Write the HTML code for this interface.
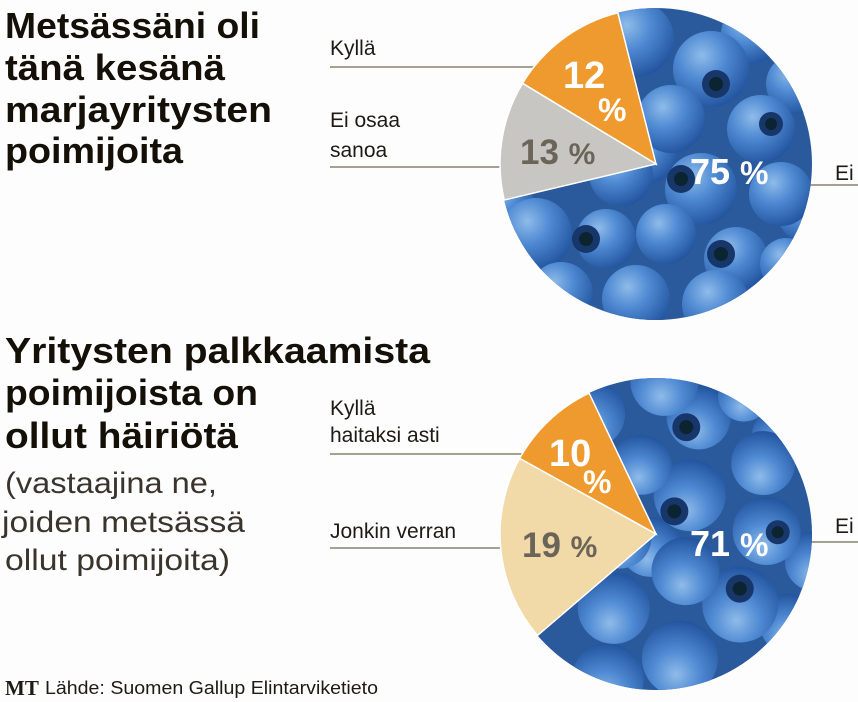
<!DOCTYPE html>
<html><head><meta charset="utf-8"><style>
html,body{margin:0;padding:0;background:#fdfdfd;overflow:hidden;width:858px;height:702px}
svg{display:block}
</style></head><body>
<svg width="858" height="702" viewBox="0 0 858 702" xmlns="http://www.w3.org/2000/svg">
<defs>
<radialGradient id="b" cx="0.38" cy="0.32" r="0.7">
<stop offset="0" stop-color="#8fbbe9"/><stop offset="0.45" stop-color="#4f8ad3"/><stop offset="1" stop-color="#2456a0"/>
</radialGradient>
<g id="berries">
<circle r="160" fill="#2a5a9c"/>
<circle cx="-140" cy="-10" r="30" fill="url(#b)"/>
<circle cx="140" cy="-80" r="30" fill="url(#b)"/>
<circle cx="150" cy="50" r="28" fill="url(#b)"/>
<circle cx="-150" cy="40" r="28" fill="url(#b)"/>
<circle cx="-10" cy="-10" r="30" fill="url(#b)"/>
<circle cx="95" cy="-130" r="30" fill="url(#b)"/>
<circle cx="-95" cy="-120" r="36" fill="url(#b)"/>
<circle cx="-20" cy="-125" r="38" fill="url(#b)"/>
<circle cx="55" cy="-95" r="38" fill="url(#b)"/>
<circle cx="-65" cy="-55" r="36" fill="url(#b)"/>
<circle cx="15" cy="-45" r="34" fill="url(#b)"/>
<circle cx="105" cy="-35" r="34" fill="url(#b)"/>
<circle cx="-35" cy="10" r="32" fill="url(#b)"/>
<circle cx="45" cy="25" r="36" fill="url(#b)"/>
<circle cx="125" cy="30" r="32" fill="url(#b)"/>
<circle cx="-120" cy="70" r="36" fill="url(#b)"/>
<circle cx="-50" cy="75" r="30" fill="url(#b)"/>
<circle cx="10" cy="70" r="30" fill="url(#b)"/>
<circle cx="80" cy="95" r="32" fill="url(#b)"/>
<circle cx="-95" cy="130" r="32" fill="url(#b)"/>
<circle cx="-20" cy="135" r="34" fill="url(#b)"/>
<circle cx="60" cy="140" r="34" fill="url(#b)"/>
<circle cx="130" cy="100" r="26" fill="url(#b)"/>
<circle cx="60" cy="-80" r="14" fill="#17366a"/><circle cx="60" cy="-80" r="7" fill="#0c2430"/>
<circle cx="-60" cy="-2" r="14" fill="#17366a"/><circle cx="-60" cy="-2" r="7" fill="#0c2430"/>
<circle cx="25" cy="15" r="14" fill="#17366a"/><circle cx="25" cy="15" r="7" fill="#0c2430"/>
<circle cx="-70" cy="75" r="14" fill="#17366a"/><circle cx="-70" cy="75" r="7" fill="#0c2430"/>
<circle cx="65" cy="90" r="14" fill="#17366a"/><circle cx="65" cy="90" r="7" fill="#0c2430"/>
<circle cx="115" cy="-40" r="12" fill="#17366a"/><circle cx="115" cy="-40" r="6" fill="#0c2430"/>
</g>
<clipPath id="c"><circle r="156"/></clipPath>
</defs>

<g font-family="Liberation Sans, sans-serif">
<g font-weight="bold" font-size="36" fill="#141008">
<text x="5" y="38" textLength="255" lengthAdjust="spacingAndGlyphs">Metsässäni oli</text>
<text x="5" y="80" textLength="220" lengthAdjust="spacingAndGlyphs">tänä kesänä</text>
<text x="5" y="122" textLength="267" lengthAdjust="spacingAndGlyphs">marjayritysten</text>
<text x="5" y="163" textLength="178" lengthAdjust="spacingAndGlyphs">poimijoita</text>
<text x="5" y="363" textLength="425" lengthAdjust="spacingAndGlyphs">Yritysten palkkaamista</text>
<text x="5" y="405" textLength="253" lengthAdjust="spacingAndGlyphs">poimijoista on</text>
<text x="5" y="448" textLength="233" lengthAdjust="spacingAndGlyphs">ollut häiriötä</text>
</g>
<g font-size="30" fill="#3a342c">
<text x="5" y="493" textLength="212" lengthAdjust="spacingAndGlyphs">(vastaajina ne,</text>
<text x="2" y="532" textLength="243" lengthAdjust="spacingAndGlyphs">joiden metsässä</text>
<text x="5" y="570" textLength="225" lengthAdjust="spacingAndGlyphs">ollut poimijoita)</text>
</g>
<g font-size="21" fill="#1e1a14">
<text x="330" y="55">Kyllä</text>
<text x="330" y="127">Ei osaa</text>
<text x="330" y="157">sanoa</text>
<text x="835" y="180">Ei</text>
<text x="330" y="415">Kyllä</text>
<text x="330" y="442">haitaksi asti</text>
<text x="330" y="538">Jonkin verran</text>
<text x="835" y="533">Ei</text>
</g>
<g stroke="#8a8270" stroke-width="1.5">
<line x1="330" y1="67" x2="545" y2="67"/>
<line x1="330" y1="167" x2="505" y2="167"/>
<line x1="800" y1="185" x2="858" y2="185"/>
<line x1="330" y1="454" x2="535" y2="454"/>
<line x1="330" y1="548" x2="510" y2="548"/>
<line x1="800" y1="542" x2="858" y2="542"/>
</g>

<g transform="translate(656,164)">
<g clip-path="url(#c)"><use href="#berries"/></g>
<path d="M0,0 L-38.2,-151.2 A156,156 0 0 0 -133.5,-80.7 Z" fill="#ef9a2e" stroke="#fff" stroke-width="1.5"/>
<path d="M0,0 L-133.5,-80.7 A156,156 0 0 0 -151.8,36 Z" fill="#c8c6c2" stroke="#fff" stroke-width="1.5"/>
</g>
<g transform="translate(656,534)">
<g clip-path="url(#c)"><use href="#berries" transform="scale(1,-1) rotate(20)"/></g>
<path d="M0,0 L-66.9,-140.9 A156,156 0 0 0 -136.4,-75.6 Z" fill="#ef9a2e" stroke="#fff" stroke-width="1.5"/>
<path d="M0,0 L-136.4,-75.6 A156,156 0 0 0 -118.5,101.5 Z" fill="#f1d9a8" stroke="#fff" stroke-width="1.5"/>
</g>

<g font-weight="bold" fill="#fff">
<text x="563" y="88" font-size="38">12</text>
<text x="598" y="121" font-size="32">%</text>
<text x="690" y="184" font-size="36">75 <tspan font-size="32">%</tspan></text>
<text x="549" y="466" font-size="38">10</text>
<text x="583" y="493" font-size="32">%</text>
<text x="690" y="556" font-size="36">71 <tspan font-size="32">%</tspan></text>
</g>
<g font-weight="bold" fill="#6b6458">
<text x="520" y="164" font-size="35">13 <tspan font-size="30">%</tspan></text>
<text x="522" y="557" font-size="35">19 <tspan font-size="30">%</tspan></text>
</g>
<text x="5" y="695" font-family="Liberation Serif, serif" font-weight="bold" font-size="21" fill="#1e1a14">MT</text>
<text x="45" y="694" font-size="18" fill="#1e1a14" textLength="333" lengthAdjust="spacingAndGlyphs">Lähde: Suomen Gallup Elintarviketieto</text>
</g>
</svg>
</body></html>
